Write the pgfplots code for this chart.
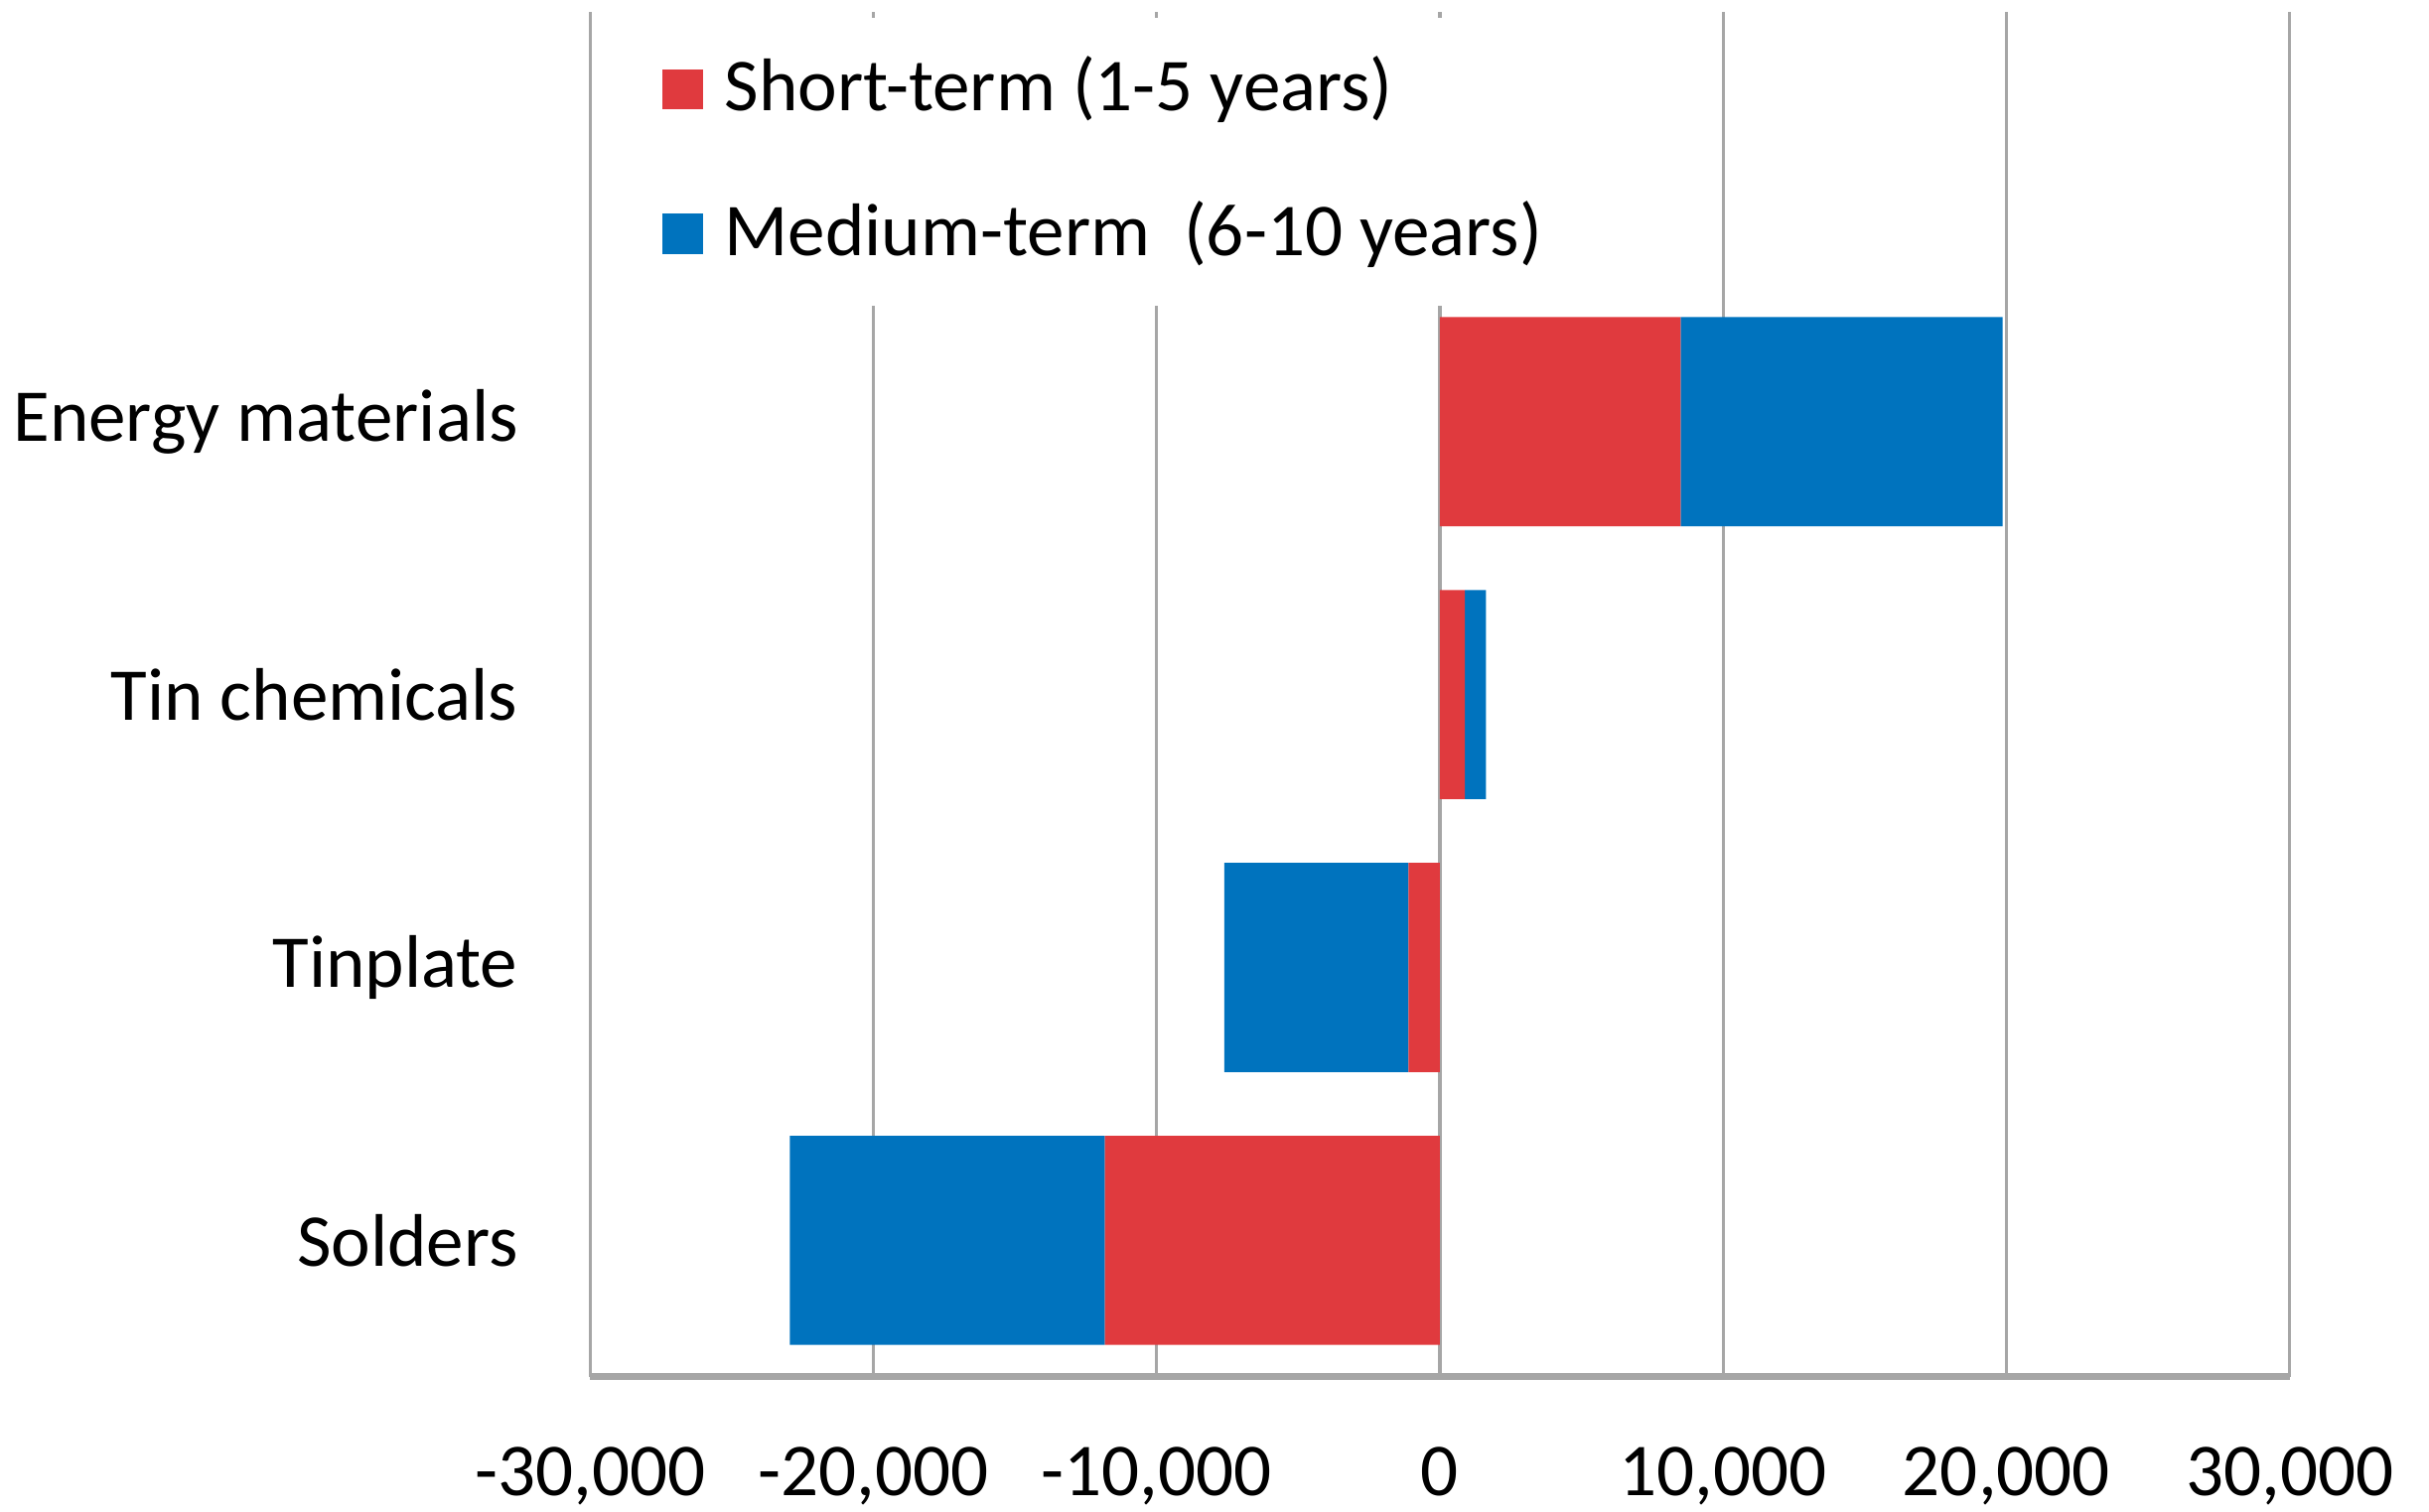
\documentclass[border=0pt]{standalone}
\usepackage{fontspec}
\setmainfont{Carlito}
\usepackage{pgfplots}
\pgfplotsset{compat=1.18}
\definecolor{redS}{HTML}{E03A3E}
\definecolor{blueM}{HTML}{0073BE}
\definecolor{gridc}{HTML}{A6A6A6}
\begin{document}
\fontsize{13.7pt}{16.5pt}\selectfont
\begin{tikzpicture}
\begin{axis}[
  scale only axis,
  width=10.97cm, height=8.81cm,
  xbar stacked, bar width=1.35cm,
  xmin=-30000, xmax=30000, ymin=-0.5, ymax=4.5,
  xtick={-30000,-20000,-10000,0,10000,20000,30000},
  scaled x ticks=false,
  ytick={0,1,2,3},
  yticklabels={Solders,Tinplate,Tin chemicals,Energy materials},
  xmajorgrids,
  major grid style={draw=gridc, line width=0.6pt},
  axis x line=bottom, axis y line=left,
  x axis line style={-, draw=gridc, line width=1.3pt},
  y axis line style={-, draw=gridc, line width=0.6pt},
  major tick length=0pt,
  tick style={draw=none},
  xticklabel style={inner sep=0pt, anchor=north, yshift=-0.45cm},
  yticklabel style={inner sep=0pt, anchor=east, xshift=-0.46cm},
  /pgf/number format/.cd, 1000 sep={,}, assume math mode=true,
  /pgfplots/.cd,
  legend style={at={(0.0173,0.997)}, anchor=north west, draw=none, fill=white,
    inner xsep=0.27cm, inner ysep=0.18cm, row sep=0.37cm,
    /tikz/every node/.append style={font=\fontsize{13.7pt}{16.5pt}\selectfont}},
  legend cell align=left,
  legend image code/.code={\fill[#1] (0cm,-0.13cm) rectangle (0.26cm,0.13cm); \path (0.33cm,0);},
]
\addplot[fill=redS, draw=none] coordinates {(-11825,0) (-1109,1) (880,2) (8500,3)};
\addplot[fill=blueM, draw=none] coordinates {(-11125,0) (-6500,1) (750,2) (11370,3)};
\legend{Short-term (1-5 years), Medium-term\ \ (6-10 years)}
\end{axis}
\pgfresetboundingbox
\path[use as bounding box] (-3.81cm,-0.87cm) rectangle (11.87cm,8.89cm);
\end{tikzpicture}
\end{document}
